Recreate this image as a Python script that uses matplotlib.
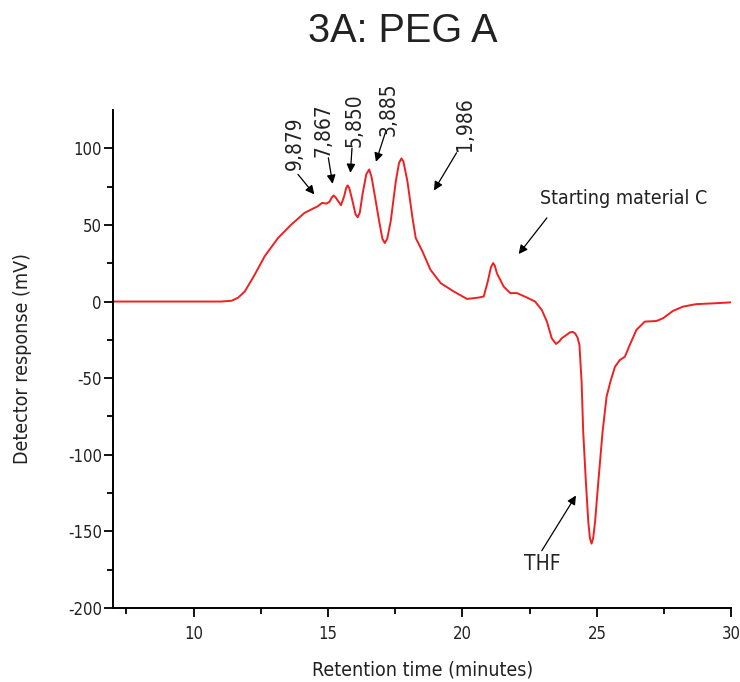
import matplotlib
matplotlib.use("Agg")
import matplotlib.pyplot as plt
import numpy as np

plt.rcParams["axes.unicode_minus"] = False

# Chromatogram trace (minutes, mV)
time_min = [7.0, 9.0, 11.0, 11.41, 11.65, 11.9, 12.27, 12.64, 13.14, 13.63, 14.12,
            14.49, 14.62, 14.78, 14.93, 15.05, 15.14, 15.21, 15.28, 15.36, 15.48,
            15.6, 15.67, 15.73, 15.79, 15.91, 16.02, 16.1, 16.18, 16.28, 16.42,
            16.53, 16.62, 16.71, 16.9, 17.02, 17.11, 17.2, 17.33, 17.52, 17.64,
            17.73, 17.8, 17.95, 18.14, 18.26, 18.51, 18.81, 19.19, 19.68, 20.17,
            20.6, 20.79, 20.94, 21.06, 21.14, 21.2, 21.28, 21.53, 21.78, 22.03,
            22.4, 22.7, 22.95, 23.14, 23.32, 23.48, 23.6, 23.69, 24.0, 24.1,
            24.19, 24.28, 24.35, 24.43, 24.49, 24.59, 24.68, 24.74, 24.8, 24.86,
            24.93, 25.05, 25.21, 25.36, 25.5, 25.67, 25.85, 26.04, 26.22, 26.47,
            26.78, 27.21, 27.46, 27.83, 28.2, 28.69, 29.43, 30.0]
response_mv = [0, 0, 0, 0.5, 2.5, 6.5, 17.5, 29.5, 41.5, 50.2, 57.8,
               61.1, 62.2, 64.4, 63.9, 65, 68, 69.2, 68, 65.9, 62.9,
               68.8, 74, 75.8, 74, 65.5, 57, 55, 58, 69.9, 83,
               86.2, 81, 72, 52.4, 41, 38.2, 41, 52.4, 78.6, 90.5,
               93.4, 91.5, 78.6, 54.6, 41.5, 32.7, 20.7, 12, 6.5, 1.7,
               2.6, 3.3, 13.1, 22.5, 25.1, 23.5, 18.5, 9.8, 5.5, 5.5,
               2.6, 0, -5.5, -13.1, -24, -27.7, -26, -24, -20.1, -19.8,
               -20.8, -23.5, -28.4, -52.4, -85, -118, -144, -154.5, -158, -154.5,
               -144, -118, -85, -62, -52.4, -42.6, -38.2, -36, -28.4, -18.5,
               -13.1, -12.7, -10.9, -6.1, -3.3, -1.7, -1.1, -0.5]

# Peak labels: text, arrow tail, arrow head, text position
peak_labels = ["9,879", "7,867", "5,850", "3,885", "1,986"]
peak_tail = [(13.88, 83.0), (15.01, 93.8), (15.89, 100.2), (17.15, 111.3), (19.78, 97.1)]
peak_head = [(14.49, 69.9), (15.17, 76.8), (15.83, 84.0), (16.78, 91.2), (18.94, 72.5)]
peak_text = [(13.76, 103.5), (14.83, 112.0), (15.98, 118.5), (17.24, 125.7), (20.09, 115.9)]

txt = dict(family="DejaVu Sans", stretch="condensed", color="#222222")

fig = plt.figure(figsize=(7.4, 6.82), dpi=100)
ax = fig.add_axes([0.1527, 0.1085, 0.8356, 0.7302])

ax.plot(time_min, response_mv, color="#f02020", lw=1.4)

ax.set_xlim(7, 30)
ax.set_ylim(-200, 125)
ax.set_xticks([10, 15, 20, 25, 30])
ax.set_xticks(np.arange(7.5, 30, 2.5), minor=True)
ax.set_yticks([-200, -150, -100, -50, 0, 50, 100])
ax.set_yticks(np.arange(-175, 125, 25), minor=True)

for s in ["top", "right"]:
    ax.spines[s].set_visible(False)
for s in ["left", "bottom"]:
    ax.spines[s].set_linewidth(1.4)
ax.tick_params(which="major", direction="out", length=6.5, width=1.3, labelsize=12)
ax.tick_params(which="minor", direction="out", length=4.5, width=1.3)
ax.tick_params(axis="x", pad=6)
ax.tick_params(axis="y", pad=1.5)
for lab in ax.get_xticklabels() + ax.get_yticklabels():
    lab.set_family("DejaVu Sans")
    lab.set_stretch("condensed")
    lab.set_color("#222222")

ax.set_xlabel("Retention time (minutes)", fontsize=14, labelpad=12, **txt)
ax.set_ylabel("Detector response (mV)", fontsize=14, labelpad=26, **txt)

fig.text(0.544, 0.955, "3A: PEG A", ha="center", va="center", fontsize=28.5,
         family=["Liberation Sans", "DejaVu Sans"], color="#222222")

arrow = dict(arrowstyle="-|>", color="black", lw=0.9, mutation_scale=13, shrinkA=0, shrinkB=0)

for lab, tail, head, pos in zip(peak_labels, peak_tail, peak_head, peak_text):
    ax.annotate("", xy=head, xytext=tail, arrowprops=arrow)
    ax.text(pos[0], pos[1], lab, rotation=90, ha="center", va="center",
            fontsize=15, clip_on=False, **txt)

ax.annotate("", xy=(22.09, 31.0), xytext=(23.14, 54.6), arrowprops=arrow)
ax.text(22.89, 67.5, "Starting material C", ha="left", va="center", fontsize=14, **txt)

ax.annotate("", xy=(24.22, -126.6), xytext=(22.95, -162.6), arrowprops=arrow)
ax.text(22.96, -171.6, "THF", ha="center", va="center", fontsize=15, **txt)

fig.savefig("out.png", dpi=100)
